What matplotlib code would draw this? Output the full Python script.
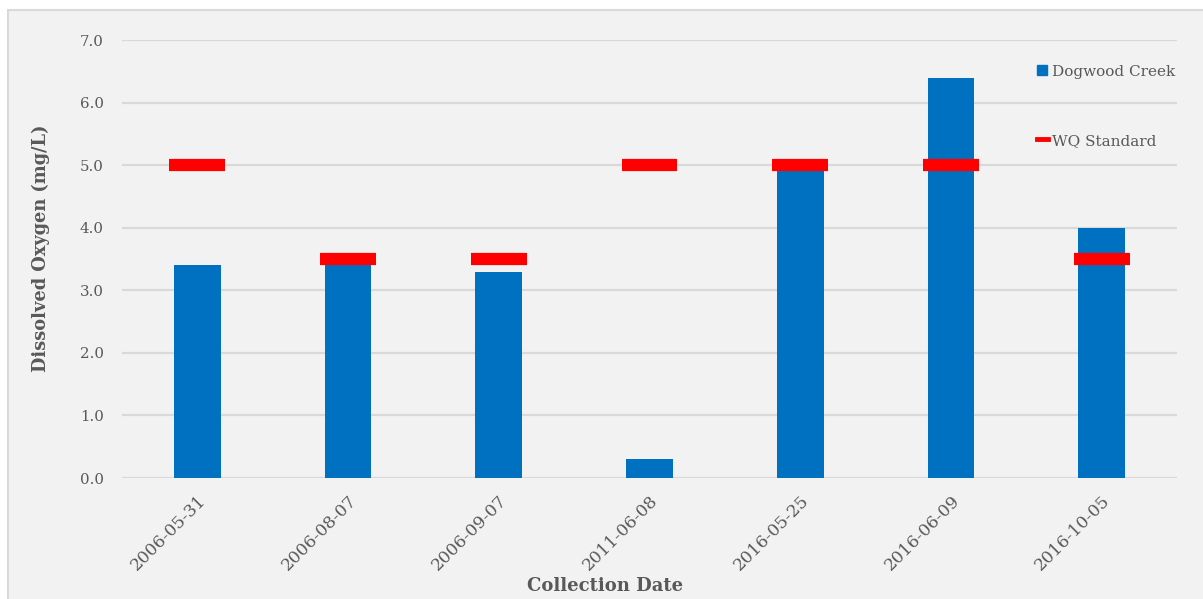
import matplotlib
matplotlib.use("Agg")
import matplotlib.pyplot as plt
from matplotlib.lines import Line2D
from matplotlib.patches import Rectangle
import numpy as np

# Sampling dates and measured dissolved oxygen (mg/L)
dates = ["2006-05-31", "2006-08-07", "2006-09-07", "2011-06-08",
         "2016-05-25", "2016-06-09", "2016-10-05"]
dogwood_creek = [3.4, 3.5, 3.3, 0.3, 5.0, 6.4, 4.0]
wq_standard = [5.0, 3.5, 3.5, 5.0, 5.0, 5.0, 3.5]
y_ticks = [0.0, 1.0, 2.0, 3.0, 4.0, 5.0, 6.0, 7.0]

BLUE = "#0070C0"
RED = "#FF0000"
TEXT = "#595959"
GRID = "#D9D9D9"
BG = "#F2F2F2"

plt.rcParams["font.family"] = ["DejaVu Serif"]

W, H = 1203, 599
fig = plt.figure(figsize=(W / 100, H / 100), dpi=100, facecolor="white")

# chart area panel
fig.patches.append(Rectangle((8 / W, -0.05), 1.2, 1 - 10 / H + 0.05,
                             transform=fig.transFigure, facecolor=BG,
                             edgecolor=GRID, linewidth=1.5, zorder=-10))

left, right = 122 / W, 1177 / W
bottom, top = 1 - 478 / H, 1 - 40 / H
ax = fig.add_axes([left, bottom, right - left, top - bottom])
ax.set_facecolor("none")
ax.set_zorder(1)

x = np.arange(len(dates))
ax.bar(x, dogwood_creek, width=0.31, color=BLUE, zorder=2)
ax.hlines(wq_standard, x - 0.185, x + 0.185, colors=RED, linewidth=8.8,
          zorder=3)

ax.set_xlim(-0.5, len(dates) - 0.5)
ax.set_ylim(0, 7.0)
ax.set_yticks(y_ticks)
ax.set_yticklabels([f"{v:.1f}" for v in y_ticks], fontsize=10.8, color=TEXT)
ax.set_xticks(x)
ax.set_xticklabels(dates, rotation=45, ha="right", rotation_mode="anchor",
                   fontsize=12.3, color=TEXT)
ax.tick_params(axis="both", length=0)
ax.tick_params(axis="y", pad=13)
ax.tick_params(axis="x", pad=10)

ax.grid(axis="y", color=GRID, linewidth=1.6, zorder=1)
ax.set_axisbelow(True)
for s in ax.spines.values():
    s.set_visible(False)

ax.set_ylabel("Dissolved Oxygen (mg/L)", fontsize=12.8, fontweight="bold",
              color=TEXT)
ax.yaxis.set_label_coords((50 - 122) / (1177 - 122), (478 - 248) / 438)
ax.yaxis.label.set_horizontalalignment("center")
ax.set_xlabel("Collection Date", fontsize=13, fontweight="bold", color=TEXT)
ax.xaxis.set_label_coords(0.458, -(586 - 478) / (478 - 40))
ax.xaxis.label.set_verticalalignment("center")

handles = [
    Line2D([], [], marker="s", markersize=7, color=BLUE, linestyle="none"),
    Line2D([], [], color=RED, linewidth=3.5),
]
leg = ax.legend(handles, ["Dogwood Creek", "WQ Standard"],
                loc="upper left",
                bbox_to_anchor=((1029 - 122) / (1177 - 122), 1 - (57 - 40) / 438),
                frameon=False, fontsize=11, handlelength=0.75,
                handletextpad=0.25, labelspacing=3.6, borderpad=0)
for t in leg.get_texts():
    t.set_color(TEXT)

fig.savefig("out.png", dpi=100, facecolor="white")
